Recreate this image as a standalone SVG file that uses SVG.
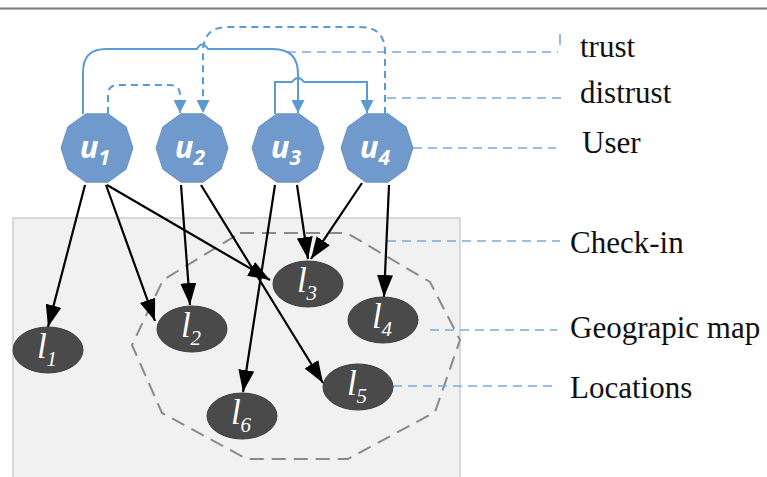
<svg xmlns="http://www.w3.org/2000/svg" width="767" height="477" viewBox="0 0 767 477">
<style>
.user{fill:#7099cc;stroke:#6a92c4;stroke-width:1}
.loc{fill:#4a4a4a;stroke:#3c3c3c;stroke-width:1}
.ut{font-family:"Open Sans","Liberation Sans",sans-serif;font-style:italic;font-weight:bold;fill:#fff;font-size:31px;text-anchor:middle}
.lt{font-family:"Liberation Serif",serif;font-style:italic;fill:#fff;font-size:35px;text-anchor:middle}
.leg{font-family:"Liberation Serif",serif;fill:#111;font-size:31px}
.edge{stroke:#000;stroke-width:2.2;fill:none;marker-end:url(#ah)}
.trust{stroke:#5b9bd5;stroke-width:2;fill:none;marker-end:url(#bh)}
.distrust{stroke:#5b9bd5;stroke-width:2;fill:none;stroke-dasharray:7 5;marker-end:url(#bh)}
.lg{stroke:#7aaadb;stroke-width:1.6;fill:none;stroke-dasharray:9 6}
</style>
<defs>
<marker id="ah" markerUnits="userSpaceOnUse" markerWidth="22" markerHeight="16" refX="22" refY="8" orient="auto"><path d="M0,0 L22,8 L0,16 z" fill="#000"/></marker>
<marker id="bh" markerUnits="userSpaceOnUse" markerWidth="13" markerHeight="13" refX="13" refY="6.5" orient="auto"><path d="M0,0 L13,6.5 L0,13 z" fill="#5b9bd5"/></marker>
<polygon id="dec" points="36,0 29.1,21.2 11.1,34.2 -11.1,34.2 -29.1,21.2 -36,0 -29.1,-21.2 -11.1,-34.2 11.1,-34.2 29.1,-21.2"/>
</defs>
<rect width="767" height="477" fill="#fff"/>
<line x1="0" y1="8.5" x2="767" y2="8.5" stroke="#777" stroke-width="2"/>
<g id="map-area">
<rect x="13" y="218" width="447" height="275" fill="#f1f1f1" stroke="#c9ced6" stroke-width="1.5"/>
<polygon points="240,233 347,233 430,282 460,340 435,412 348,459 247,459 162,413 132,345 163,280" fill="none" stroke="#8a8a8a" stroke-width="2" stroke-dasharray="14 8"/>
</g>
<g id="legend-lines">
<path class="lg" d="M287,52 H558"/>
<path d="M560,34 V45" stroke="#7aaadb" stroke-width="1.6"/>
<path class="lg" d="M387,98 H561 V103"/>
<path class="lg" d="M413,148 H556"/>
<path class="lg" d="M387,241 H560"/>
<path class="lg" d="M430,330 H557"/>
<path class="lg" d="M393,386 H557"/>
</g>
<g id="connectors">
<path class="trust" d="M83,114 V72 Q83,49 106,49 H197 Q202,40 208,49 H273 Q298,49 298,74 V113"/>
<path class="trust" d="M275,114 V82 H292 Q298,74 304,82 H367 V113"/>
<path class="distrust" d="M108,114 V95 Q108,85 118,85 H170 Q180,85 180,95 V113"/>
<path class="distrust" d="M385,114 V52 Q385,27 360,27 H228 Q203,27 203,52 V113"/>
<path class="edge" d="M85,185 L48,327"/>
<path class="edge" d="M106,185 L155,321"/>
<path class="edge" d="M107,185 L270,280"/>
<path class="edge" d="M181,185 L190,305"/>
<path class="edge" d="M201,185 L323,383"/>
<path class="edge" d="M275,185 L243,392"/>
<path class="edge" d="M297,185 L308,259"/>
<path class="edge" d="M362,183 L311,259"/>
<path class="edge" d="M389,185 L384,297"/>
</g>
<g id="u1"><use href="#dec" class="user" transform="translate(97,148)"/><text class="ut" x="95" y="158">u<tspan font-size="21" dy="7">1</tspan></text></g>
<g id="u2"><use href="#dec" class="user" transform="translate(192,148)"/><text class="ut" x="190" y="158">u<tspan font-size="21" dy="7">2</tspan></text></g>
<g id="u3"><use href="#dec" class="user" transform="translate(288,148)"/><text class="ut" x="286" y="158">u<tspan font-size="21" dy="7">3</tspan></text></g>
<g id="u4"><use href="#dec" class="user" transform="translate(377,148)"/><text class="ut" x="375" y="158">u<tspan font-size="21" dy="7">4</tspan></text></g>
<g id="l1"><ellipse class="loc" cx="48" cy="350" rx="35" ry="23"/><text class="lt" x="47" y="358">l<tspan font-size="21" dy="8">1</tspan></text></g>
<g id="l2"><ellipse class="loc" cx="192" cy="329" rx="35" ry="23"/><text class="lt" x="191" y="337">l<tspan font-size="21" dy="8">2</tspan></text></g>
<g id="l3"><ellipse class="loc" cx="308" cy="284" rx="35" ry="23"/><text class="lt" x="307" y="292">l<tspan font-size="21" dy="8">3</tspan></text></g>
<g id="l4"><ellipse class="loc" cx="383" cy="320" rx="35" ry="23"/><text class="lt" x="382" y="328">l<tspan font-size="21" dy="8">4</tspan></text></g>
<g id="l5"><ellipse class="loc" cx="358" cy="387" rx="35" ry="23"/><text class="lt" x="357" y="395">l<tspan font-size="21" dy="8">5</tspan></text></g>
<g id="l6"><ellipse class="loc" cx="242" cy="416" rx="35" ry="23"/><text class="lt" x="241" y="424">l<tspan font-size="21" dy="8">6</tspan></text></g>
<g id="legend">
<text class="leg" x="580" y="57">trust</text>
<text class="leg" x="580" y="103">distrust</text>
<text class="leg" x="582" y="153">User</text>
<text class="leg" x="570" y="253">Check-in</text>
<text class="leg" x="570" y="338">Geograpic map</text>
<text class="leg" x="570" y="398">Locations</text>
</g>
</svg>
